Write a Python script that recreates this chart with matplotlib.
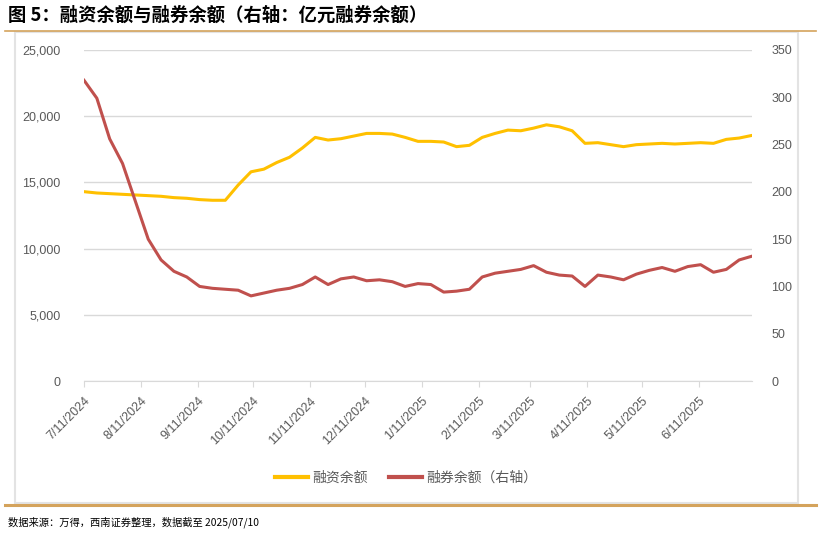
import matplotlib
matplotlib.use("Agg")
import matplotlib.pyplot as plt
import matplotlib.dates as mdates
from matplotlib.patches import Rectangle
from matplotlib.lines import Line2D
from matplotlib.ticker import FuncFormatter, MultipleLocator
import pandas as pd

plt.rcParams["font.family"] = ["Liberation Sans", "Noto Sans CJK SC", "DejaVu Sans"]
CJK = ["Noto Sans CJK SC", "DejaVu Sans"]

# weekly readings, starting 2024-07-11
start = "2024-07-11"
margin_financing = [
    14300, 14200, 14150, 14100, 14050, 14000, 13950, 13850, 13800, 13700,
    13650, 13650, 14800, 15800, 16000, 16500, 16900, 17600, 18400, 18200,
    18300, 18500, 18700, 18700, 18650, 18400, 18100, 18100, 18050, 17700,
    17800, 18400, 18700, 18950, 18900, 19100, 19350, 19200, 18900, 17950,
    18000, 17850, 17700, 17850, 17900, 17950, 17900, 17950, 18000, 17950,
    18250, 18350, 18550,
]
short_selling = [
    318, 299, 256, 230, 190, 150, 128, 116, 110, 100,
    98, 97, 96, 90, 93, 96, 98, 102, 110, 102,
    108, 110, 106, 107, 105, 100, 103, 102, 94, 95,
    97, 110, 114, 116, 118, 122, 115, 112, 111, 100,
    112, 110, 107, 113, 117, 120, 116, 121, 123, 115,
    118, 128, 132,
]
dates = pd.date_range(start, periods=len(margin_financing), freq="7D")
dates = dates[:-1].append(pd.DatetimeIndex(["2025-07-10"]))
tick_dates = pd.date_range("2024-07-01", periods=12, freq="MS") + pd.Timedelta(days=10)

series_names = ["融资余额", "融券余额（右轴）"]
title = "图 5：融资余额与融券余额（右轴：亿元融券余额）"
source = "数据来源：万得，西南证券整理，数据截至 2025/07/10"

YELLOW = "#FFC000"
RED = "#C0504D"
GOLD = "#D4A35C"
GRAY = "#595959"

fig = plt.figure(figsize=(8.21, 5.37), dpi=100)
W, H = 821, 537

def fx(px):
    return px / W

def fy(py):
    return 1 - py / H

# frame and decoration lines
fig.patches.append(Rectangle((fx(15), fy(503)), fx(798) - fx(15), fy(32) - fy(503),
                             transform=fig.transFigure, fill=False,
                             edgecolor="#E3E3E3", lw=1.5, zorder=0))
fig.add_artist(Line2D([fx(5), fx(816)], [fy(31), fy(31)], color=GOLD, lw=1.2))
fig.add_artist(Line2D([fx(5), fx(816)], [fy(505), fy(505)], color=GOLD, lw=2.2))

fig.text(fx(8), fy(15), title, family=CJK, fontsize=13.2, fontweight="bold",
         va="center", ha="left", color="black")
fig.text(fx(8), fy(522), source, family=CJK, fontsize=7.4, style="italic",
         va="center", ha="left", color="black")

ax = fig.add_axes([fx(84), fy(381), fx(752) - fx(84), fy(50) - fy(381)])
ax2 = ax.twinx()

ax.plot(dates, margin_financing, color=YELLOW, lw=2.2, zorder=3)
ax2.plot(dates, short_selling, color=RED, lw=2.2, zorder=3)

ax.set_ylim(0, 25000)
ax.yaxis.set_major_locator(MultipleLocator(5000))
ax.yaxis.set_major_formatter(FuncFormatter(lambda v, p: f"{int(v):,}"))
ax2.set_ylim(0, 350)
ax2.yaxis.set_major_locator(MultipleLocator(50))

ax.set_xticks(tick_dates)
ax.set_xlim(dates[0], dates[-1])
ax.xaxis.set_major_formatter(FuncFormatter(
    lambda v, p: f"{mdates.num2date(v).month}/11/{mdates.num2date(v).year}"))
for lbl in ax.get_xticklabels():
    lbl.set_rotation(45)
    lbl.set_ha("right")
    lbl.set_rotation_mode("anchor")

ax.grid(axis="y", color="#D9D9D9", lw=1)
ax.set_axisbelow(True)
for a in (ax, ax2):
    for s in ("top", "left", "right"):
        a.spines[s].set_visible(False)
    a.spines["bottom"].set_color("#D9D9D9")
ax2.spines["bottom"].set_visible(False)

ax.tick_params(axis="y", length=0, pad=17, labelsize=9, labelcolor=GRAY)
ax2.tick_params(axis="y", length=0, pad=14, labelsize=9, labelcolor=GRAY)
ax.tick_params(axis="x", length=4, color="#D9D9D9", pad=6, labelsize=9, labelcolor=GRAY)

handles = [Line2D([], [], color=YELLOW, lw=3), Line2D([], [], color=RED, lw=3)]
fig.legend(handles, series_names, loc="center", bbox_to_anchor=(fx(406), fy(478)),
           ncol=2, frameon=False, handlelength=2.4, handletextpad=0.3,
           columnspacing=1.5, prop={"family": CJK, "size": 10}, labelcolor=GRAY)

fig.savefig("out.png", dpi=100)
plt.close(fig)
